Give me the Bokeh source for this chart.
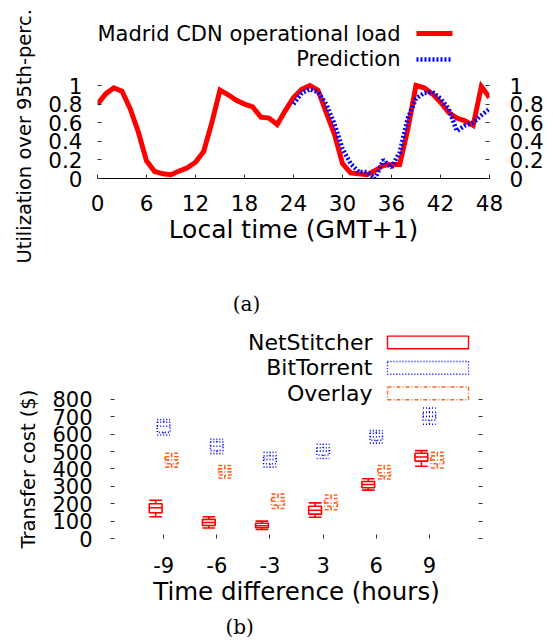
from bokeh.plotting import figure
from bokeh.models import Range1d, FixedTicker, LinearAxis, Title
from bokeh.core.properties import value
from bokeh.embed import file_html
from bokeh.resources import INLINE

FONT = "DejaVu Sans"

# ---------------- data (a) ----------------
hours = list(range(49))
load = [0.80, 0.91, 0.975, 0.94, 0.75, 0.50, 0.19, 0.075, 0.05, 0.04, 0.08, 0.115,
        0.175, 0.29, 0.60, 0.95, 0.90, 0.84, 0.80, 0.77, 0.66, 0.65, 0.58, 0.73,
        0.87, 0.96, 1.00, 0.95, 0.71, 0.48, 0.16, 0.06, 0.05, 0.04, 0.085, 0.14,
        0.15, 0.15, 0.53, 1.00, 0.975, 0.91, 0.82, 0.71, 0.65, 0.62, 0.57, 0.99, 0.87]
pred_hours = list(range(24, 49))
pred = [0.80, 0.92, 0.96, 0.93, 0.80, 0.59, 0.32, 0.16, 0.07, 0.07, 0.0, 0.20,
        0.12, 0.28, 0.65, 0.86, 0.92, 0.93, 0.86, 0.75, 0.51, 0.57, 0.60, 0.68, 0.75]
a_xticks = [0, 6, 12, 18, 24, 30, 36, 42, 48]
a_yticks = [0, 0.2, 0.4, 0.6, 0.8, 1]
a_ylabels = ["0", "0.2", "0.4", "0.6", "0.8", "1"]
a_legend = ["Madrid CDN operational load", "Prediction"]

# ---------------- data (b) ----------------
categories = ["-9", "-6", "-3", "3", "6", "9"]
ns_low = [125, 60, 52, 122, 278, 415]
ns_q1 = [148, 75, 62, 140, 292, 445]
ns_med = [177, 92, 73, 162, 310, 468]
ns_q3 = [200, 110, 88, 185, 328, 490]
ns_high = [220, 125, 100, 205, 343, 505]
bt_low = [595, 488, 410, 460, 548, 657]
bt_q1 = [610, 505, 430, 480, 565, 680]
bt_med = [645, 530, 455, 502, 585, 702]
bt_q3 = [668, 555, 475, 522, 605, 725]
bt_high = [683, 570, 495, 542, 620, 750]
ov_low = [410, 348, 172, 165, 342, 405]
ov_q1 = [430, 365, 192, 185, 360, 430]
ov_med = [452, 383, 214, 205, 378, 452]
ov_q3 = [470, 400, 235, 230, 400, 475]
ov_high = [490, 420, 255, 250, 420, 495]
b_yticks = [0, 100, 200, 300, 400, 500, 600, 700, 800]
b_legend = ["NetStitcher", "BitTorrent", "Overlay"]

RED = "#ff0000"
BLUE = "#0000ff"
ORANGE = "#ff6420"
BLUE_DASH = "2 2"


def style_axis(ax, size, standoff, show_labels=True):
    ax.axis_line_color = None
    ax.major_tick_in = 4
    ax.major_tick_out = 0
    ax.major_tick_line_color = "#333333"
    ax.minor_tick_line_color = None
    ax.major_label_text_font = FONT
    ax.major_label_text_font_size = size
    ax.major_label_text_color = "black" if show_labels else None
    ax.major_label_standoff = standoff
    ax.axis_label_text_font = FONT
    ax.axis_label_text_font_style = "normal"
    ax.axis_label_text_color = "black"


def base_fig(h, xr, yr, left, right, top, bottom):
    p = figure(width=553, height=h, output_backend="svg", toolbar_location=None,
               x_range=xr, y_range=yr, min_border_left=left, min_border_right=right,
               min_border_top=top, min_border_bottom=bottom,
               x_axis_type=None, y_axis_type=None)
    p.outline_line_color = None
    p.background_fill_color = "white"
    p.border_fill_color = "white"
    return p


# ================= figure (a) =================
p1 = base_fig(290, Range1d(0, 48), Range1d(0, 1.914), 97, 64, 0, 112)

xa = LinearAxis(ticker=FixedTicker(ticks=a_xticks, minor_ticks=[]),
                axis_label="Local time (GMT+1)")
style_axis(xa, "21.5px", 16)
xa.axis_line_color = "black"
xa.axis_label_text_font_size = "25px"
xa.axis_label_standoff = 1
p1.add_layout(xa, "below")

overrides = {t: l for t, l in zip(a_yticks, a_ylabels)}
ya = LinearAxis(ticker=FixedTicker(ticks=a_yticks, minor_ticks=[]),
                major_label_overrides=overrides)
style_axis(ya, "21.5px", 15)
p1.add_layout(ya, "left")
ya2 = LinearAxis(ticker=FixedTicker(ticks=a_yticks, minor_ticks=[]),
                 major_label_overrides=overrides)
style_axis(ya2, "21.5px", 20)
p1.add_layout(ya2, "right")

p1.add_layout(Title(text="Utilization over 95th-perc.", align="left", offset=-85,
                    standoff=20, text_font=FONT, text_font_size="19.5px",
                    text_font_style="normal", text_color="black"), "left")

p1.line(hours, load, line_color=RED, line_width=5, line_join="miter")
p1.line(pred_hours, pred, line_color=BLUE, line_width=4.5, line_dash=BLUE_DASH)

# legend (a)
p1.text(x=[37.1, 37.1], y=[1.559, 1.28], text=a_legend, text_align="right",
        text_baseline="middle", text_font=value(FONT), text_font_size=value("21px"),
        text_color="black")
p1.line([39.06, 43.47], [1.559, 1.559], line_color=RED, line_width=5)
p1.line([39.06, 43.47], [1.28, 1.28], line_color=BLUE, line_width=4.5, line_dash=BLUE_DASH)

# ================= figure (b) =================
p2 = base_fig(352, Range1d(0, 7), Range1d(0, 1425.4), 110, 71, 0, 99)

pos = [i + 1 for i in range(len(categories))]
xb = LinearAxis(ticker=FixedTicker(ticks=pos, minor_ticks=[]),
                major_label_overrides={p: c for p, c in zip(pos, categories)},
                axis_label="Time difference (hours)")
style_axis(xb, "21px", 18)
xb.axis_label_text_font_size = "24.5px"
xb.axis_label_standoff = 1
p2.add_layout(xb, "below")
yb = LinearAxis(ticker=FixedTicker(ticks=b_yticks, minor_ticks=[]))
style_axis(yb, "21px", 18)
p2.add_layout(yb, "left")
yb2 = LinearAxis(ticker=FixedTicker(ticks=b_yticks, minor_ticks=[]))
style_axis(yb2, "21px", 5, show_labels=False)
p2.add_layout(yb2, "right")

p2.add_layout(Title(text="Transfer cost ($)", align="left", offset=-10,
                    standoff=20, text_font=FONT, text_font_size="19.5px",
                    text_font_style="normal", text_color="black"), "left")
p2.add_layout(Title(text="(b)", align="left", offset=115, standoff=8,
                    text_font="DejaVu Serif", text_font_size="20px",
                    text_font_style="normal", text_color="black"), "below")

W = 0.24
series = [
    (-0.15, RED, "solid", ns_low, ns_q1, ns_med, ns_q3, ns_high),
    (0.0, BLUE, "1 2", bt_low, bt_q1, bt_med, bt_q3, bt_high),
    (0.15, ORANGE, "4 2 1 2", ov_low, ov_q1, ov_med, ov_q3, ov_high),
]
for off, col, dash, lo, q1, med, q3, hi in series:
    xs = [p + off for p in pos]
    x0 = [x - W / 2 for x in xs]
    x1 = [x + W / 2 for x in xs]
    kw = dict(line_color=col, line_width=1.6, line_dash=dash)
    p2.segment(xs, q3, xs, hi, **kw)
    p2.segment(xs, q1, xs, lo, **kw)
    p2.segment(x0, hi, x1, hi, **kw)
    p2.segment(x0, lo, x1, lo, **kw)
    p2.vbar(x=xs, width=W, bottom=q1, top=q3, fill_color=None, **kw)
    p2.segment(x0, med, x1, med, **kw)

# legend (b)
leg_y = [1126.8, 980.3, 833.8]
p2.text(x=[4.93] * 3, y=leg_y, text=b_legend, text_align="right", text_baseline="middle",
        text_font=value(FONT), text_font_size=value("22px"), text_color="black")
for (off, col, dash, *_), ly in zip(series, leg_y):
    p2.quad(left=[5.212], right=[6.737], bottom=[ly - 36.6], top=[ly + 36.6],
            fill_color=None, line_color=col, line_width=1.4, line_dash=dash)

# caption (a) lies between the two panels, inside the frame of (b)
p2.text(x=[2.559], y=[1346.5], text=["(a)"], text_align="center", text_baseline="middle",
        text_font=value("DejaVu Serif"), text_font_size=value("20px"), text_color="black")

open("out.html", "w").write(file_html([p1, p2], INLINE))
